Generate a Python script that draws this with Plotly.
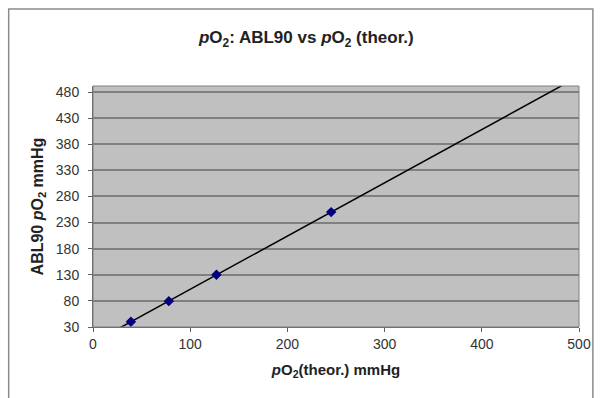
import numpy as np
import plotly.graph_objects as go

# Data
po2_theor = [39, 78, 127, 245]
po2_abl90 = [40, 79.5, 130, 250]

x_ticks = [0, 100, 200, 300, 400, 500]
y_ticks = [30, 80, 130, 180, 230, 280, 330, 380, 430, 480]

# Linear trendline (least squares) through the measured points
slope, intercept = np.polyfit(po2_theor, po2_abl90, 1)
trend_x = [0, 500]
trend_y = [slope * x + intercept for x in trend_x]

FONT = "Arial, Liberation Sans, sans-serif"

fig = go.Figure()
fig.add_trace(go.Scatter(
    x=trend_x, y=trend_y, mode="lines",
    line=dict(color="black", width=1.5), hoverinfo="skip", showlegend=False,
))
fig.add_trace(go.Scatter(
    x=po2_theor, y=po2_abl90, mode="markers",
    marker=dict(symbol="diamond", size=8, color="#000080"),
    showlegend=False, cliponaxis=False,
))

fig.update_layout(
    width=603, height=398,
    margin=dict(l=93, r=20, t=86, b=71),
    paper_bgcolor="white",
    plot_bgcolor="#c0c0c0",
    font=dict(family=FONT, color="#222"),
    title=dict(
        text="<b><i>p</i>O<sub>2</sub>: ABL90 vs <i>p</i>O<sub>2</sub> (theor.)</b>",
        x=0.508, xanchor="center", xref="container",
        y=1 - 37 / 398, yanchor="middle", yref="container",
        font=dict(size=17, family=FONT, color="#222"),
    ),
    xaxis=dict(
        range=[0, 500], tickvals=x_ticks, ticktext=[str(v) for v in x_ticks],
        showgrid=False, zeroline=False,
        showline=True, linecolor="#606060", linewidth=1, mirror=False,
        ticks="outside", ticklen=4, tickcolor="#606060",
        tickfont=dict(size=14, family=FONT, color="#333"),
        title=dict(text="<b><i>p</i>O<sub>2</sub>(theor.) mmHg</b>",
                   font=dict(size=15, family=FONT, color="#222"), standoff=13),
    ),
    yaxis=dict(
        range=[30, 491.5], tickvals=y_ticks, ticktext=[str(v) for v in y_ticks],
        showgrid=True, gridcolor="#808080", gridwidth=1.5, zeroline=False,
        showline=True, linecolor="#606060", linewidth=1,
        ticks="outside", ticklen=4, tickcolor="#606060",
        ticklabelstandoff=6,
        tickfont=dict(size=14, family=FONT, color="#333"),
        title=dict(text="<b>ABL90 <i>p</i>O<sub>2</sub> mmHg</b>",
                   font=dict(size=16, family=FONT, color="#222"), standoff=8),
    ),
    shapes=[
        # plot-area frame
        dict(type="rect", xref="paper", yref="paper", x0=0, x1=1, y0=0, y1=1,
             line=dict(color="#808080", width=1), layer="above"),
        # outer chart frame
        dict(type="rect", xref="paper", yref="paper",
             x0=(8 - 93) / 490, x1=(597 - 93) / 490,
             y0=(327 - 405) / 241, y1=(327 - 9) / 241,
             line=dict(color="#8c8c8c", width=1.5), layer="below"),
    ],
)

fig.write_html(
    "out.html",
    config={"displayModeBar": False},
    post_script="document.body.style.margin='0';document.body.style.overflow='hidden';",
)
